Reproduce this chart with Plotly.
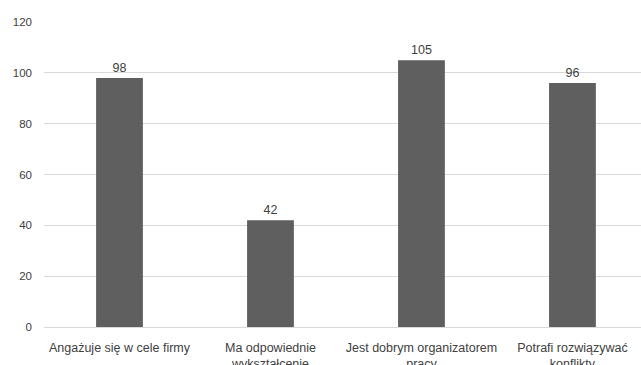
import plotly.graph_objects as go

categories = ["Angażuje się w cele firmy", "Ma odpowiednie<br>wykształcenie",
              "Jest dobrym organizatorem<br>pracy", "Potrafi rozwiązywać<br>konflikty"]
values = [98, 42, 105, 96]
y_ticks = [0, 20, 40, 60, 80, 100, 120]

fig = go.Figure(go.Bar(
    x=categories, y=values,
    marker=dict(color="#5f5f5f", line=dict(width=0)),
    width=0.31,
    text=[str(v) for v in values], textposition="outside",
    textfont=dict(size=12.5, color="#404040"),
    cliponaxis=False,
))

fig.update_layout(
    width=641, height=365,
    margin=dict(l=44, r=0, t=22, b=38),
    paper_bgcolor="white", plot_bgcolor="white",
    font=dict(family="Liberation Sans, Arial, sans-serif", size=11, color="#404040"),
    showlegend=False,
    xaxis=dict(range=[-0.5, 3.454], showgrid=False, showline=False, ticks="",
               automargin=False, ticklabelstandoff=11,
               tickfont=dict(size=12.5, color="#404040")),
    yaxis=dict(range=[0, 120], tickvals=y_ticks, showgrid=True, gridcolor="#d9d9d9",
               gridwidth=1, zeroline=True, zerolinecolor="#d9d9d9", zerolinewidth=1,
               automargin=False,
               ticks="", ticklabelstandoff=11, tickfont=dict(size=11.5, color="#404040")),
)

fig.write_html("out.html")
